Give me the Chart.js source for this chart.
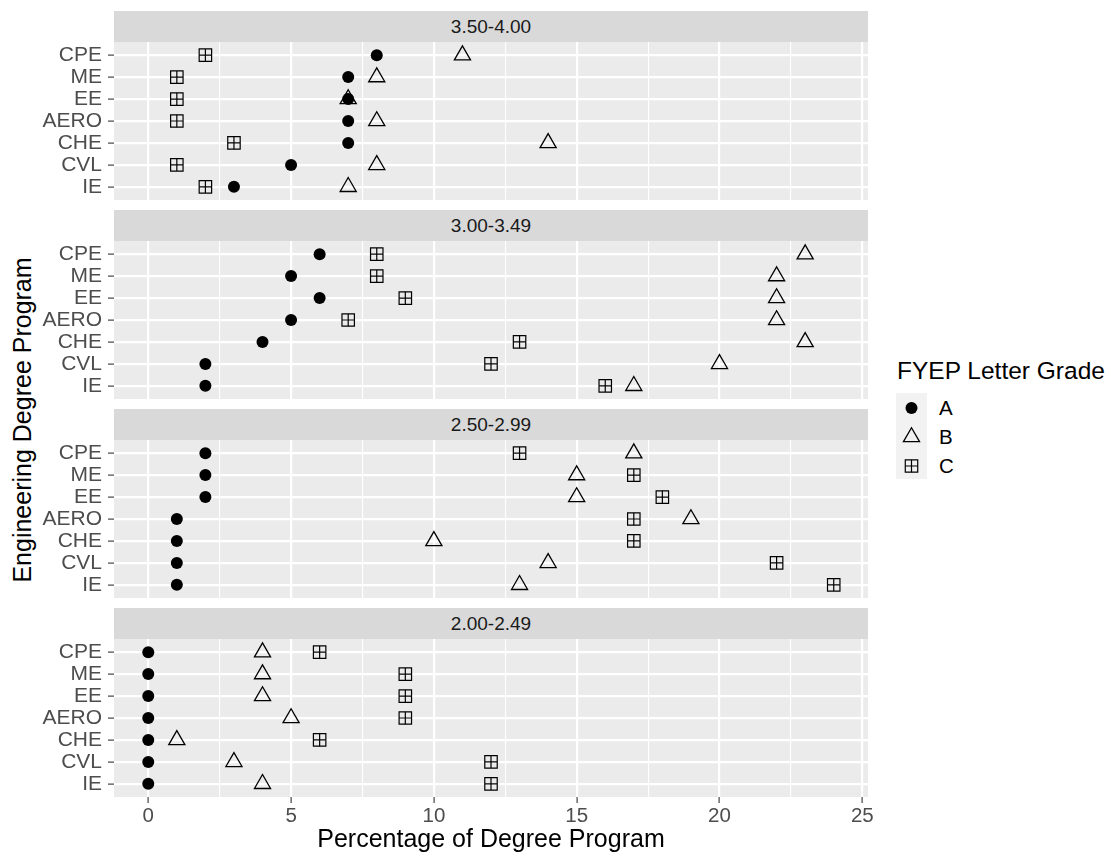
<!DOCTYPE html>
<html>
<head>
<meta charset="utf-8">
<script src="https://cdn.jsdelivr.net/npm/chart.js"></script>
<style>
  body { margin: 0; background: #fff; width: 1111px; height: 856px; overflow: hidden; position: relative;
         font-family: "Liberation Sans", Arial, sans-serif; }
  .box { position: absolute; left: 0; width: 900px; }
  .strip { position: absolute; left: 114px; width: 754px; height: 31px; background: #D9D9D9; color: #1A1A1A;
           font-size: 19px; line-height: 31px; text-align: center; }
  #ytitle { position: absolute; left: 22px; top: 419.5px; transform: translate(-50%, -50%) rotate(-90deg);
            white-space: nowrap; font-size: 25px; color: #000; }
  #legTitle { position: absolute; left: 897px; top: 359px; font-size: 24.5px; line-height: 24.5px; color: #000; white-space: nowrap; }
  #legKeys { position: absolute; left: 896px; top: 393px; }
  .legLab { position: absolute; left: 939px; font-size: 20.5px; line-height: 20px; color: #000; }
</style>
</head>
<body>
<div id="ytitle">Engineering Degree Program</div>
<div id="legTitle">FYEP Letter Grade</div>
<canvas id="legKeys" width="31" height="86"></canvas>
<div class="legLab" style="top:398px">A</div>
<div class="legLab" style="top:427px">B</div>
<div class="legLab" style="top:456px">C</div>

<script>
// programs top to bottom, GPA bands top panel to bottom panel
const programs = ['CPE', 'ME', 'EE', 'AERO', 'CHE', 'CVL', 'IE'];
const gpaBands = ['3.50-4.00', '3.00-3.49', '2.50-2.99', '2.00-2.49'];

// percentage of degree program, one row per GPA band, in program order
const gradeA = [
  [8, 7, 7, 7, 7, 5, 3],
  [6, 5, 6, 5, 4, 2, 2],
  [2, 2, 2, 1, 1, 1, 1],
  [0, 0, 0, 0, 0, 0, 0]
];
const gradeB = [
  [11, 8, 7, 8, 14, 8, 7],
  [23, 22, 22, 22, 23, 20, 17],
  [17, 15, 15, 19, 10, 14, 13],
  [4, 4, 4, 5, 1, 3, 4]
];
const gradeC = [
  [2, 1, 1, 1, 3, 1, 2],
  [8, 8, 9, 7, 13, 12, 16],
  [13, 17, 18, 17, 17, 22, 24],
  [6, 9, 9, 9, 6, 12, 12]
];

const xTicks = [0, 5, 10, 15, 20, 25];
const xMinor = [2.5, 7.5, 12.5, 17.5, 22.5];

const panelTop = [42, 241, 440, 639];
const panelH = 158;
const PAD = 20;

Chart.defaults.font.family = '"Liberation Sans", Arial, sans-serif';

// grey panel background like ggplot
const panelBg = {
  id: 'panelBg',
  beforeDraw(chart) {
    const { ctx, chartArea: a } = chart;
    ctx.save();
    ctx.fillStyle = '#EBEBEB';
    ctx.fillRect(a.left, a.top, a.right - a.left, a.bottom - a.top);
    ctx.restore();
  }
};

function points(vals) {
  return vals.map((v, i) => ({ x: v, y: i }));
}

gpaBands.forEach((band, f) => {
  const last = f === gpaBands.length - 1;

  const strip = document.createElement('div');
  strip.className = 'strip';
  strip.style.top = (panelTop[f] - 31) + 'px';
  strip.textContent = band;
  document.body.appendChild(strip);

  const box = document.createElement('div');
  box.className = 'box';
  box.style.top = (panelTop[f] - PAD) + 'px';
  box.style.height = (PAD + panelH + (last ? 65 : PAD)) + 'px';
  const cv = document.createElement('canvas');
  box.appendChild(cv);
  document.body.appendChild(box);

  new Chart(cv, {
    type: 'scatter',
    data: {
      datasets: [
        { label: 'A', data: points(gradeA[f]), pointStyle: 'circle', pointRadius: 6,
          backgroundColor: '#000', borderColor: '#000', borderWidth: 0 },
        { label: 'B', data: points(gradeB[f]), pointStyle: 'triangle', pointRadius: 9.3,
          backgroundColor: 'rgba(0,0,0,0)', borderColor: '#000', borderWidth: 1.3 },
        { label: 'C', data: points(gradeC[f]), pointStyle: 'rect', pointRadius: 8.8,
          backgroundColor: 'rgba(0,0,0,0)', borderColor: '#000', borderWidth: 1.2 },
        { label: 'C', data: points(gradeC[f]), pointStyle: 'cross', pointRadius: 6.2,
          backgroundColor: 'rgba(0,0,0,0)', borderColor: '#000', borderWidth: 1.2 }
      ]
    },
    options: {
      responsive: true,
      maintainAspectRatio: false,
      animation: false,
      events: [],
      layout: { padding: { top: PAD, bottom: last ? 0 : PAD, left: 0, right: 32 } },
      plugins: { legend: { display: false }, tooltip: { enabled: false } },
      scales: {
        x: {
          type: 'linear', min: -1.2, max: 25.2,
          afterBuildTicks: s => { s.ticks = xTicks.concat(xMinor).sort((a, b) => a - b).map(v => ({ value: v })); },
          afterFit: s => { s.height = last ? 65 : 0; },
          border: { display: false },
          grid: {
            color: '#fff',
            lineWidth: c => xTicks.includes(c.tick.value) ? 2.2 : 1.1,
            drawTicks: last, tickLength: 6, tickWidth: 1.1,
            tickColor: c => xTicks.includes(c.tick.value) ? '#333' : 'rgba(0,0,0,0)'
          },
          ticks: { display: last, autoSkip: false, maxRotation: 0, padding: 1, color: '#4D4D4D',
                   font: { size: 20.5 }, callback: v => xTicks.includes(v) ? v : '' },
          title: { display: last, text: 'Percentage of Degree Program', color: '#000',
                   font: { size: 25 }, padding: { top: 0, bottom: 7 } }
        },
        y: {
          type: 'linear', reverse: true, min: -0.6, max: 6.6,
          afterBuildTicks: s => { s.ticks = programs.map((p, i) => ({ value: i })); },
          afterFit: s => { s.width = 114; },
          border: { display: false },
          grid: { color: '#fff', lineWidth: 2.2, tickLength: 6, tickColor: '#333', tickWidth: 1.1 },
          ticks: { autoSkip: false, padding: 6, color: '#4D4D4D', font: { size: 21 }, callback: v => programs[v] }
        }
      }
    },
    plugins: [panelBg]
  });
});

// legend keys
const lk = document.getElementById('legKeys').getContext('2d');
lk.fillStyle = '#F2F2F2';
lk.fillRect(0, 0, 31, 86);
lk.strokeStyle = '#000';
const dp = Chart.helpers.drawPoint;
lk.fillStyle = '#000';
lk.lineWidth = 0;
dp(lk, { pointStyle: 'circle', radius: 6, rotation: 0, borderWidth: 0 }, 15.5, 15);
lk.fillStyle = 'rgba(0,0,0,0)';
lk.lineWidth = 1.3;
dp(lk, { pointStyle: 'triangle', radius: 9.3, rotation: 0, borderWidth: 1.3 }, 15.5, 44);
lk.lineWidth = 1.2;
dp(lk, { pointStyle: 'rect', radius: 8.8, rotation: 0, borderWidth: 1.2 }, 15.5, 73);
dp(lk, { pointStyle: 'cross', radius: 6.2, rotation: 0, borderWidth: 1.2 }, 15.5, 73);
</script>
</body>
</html>
